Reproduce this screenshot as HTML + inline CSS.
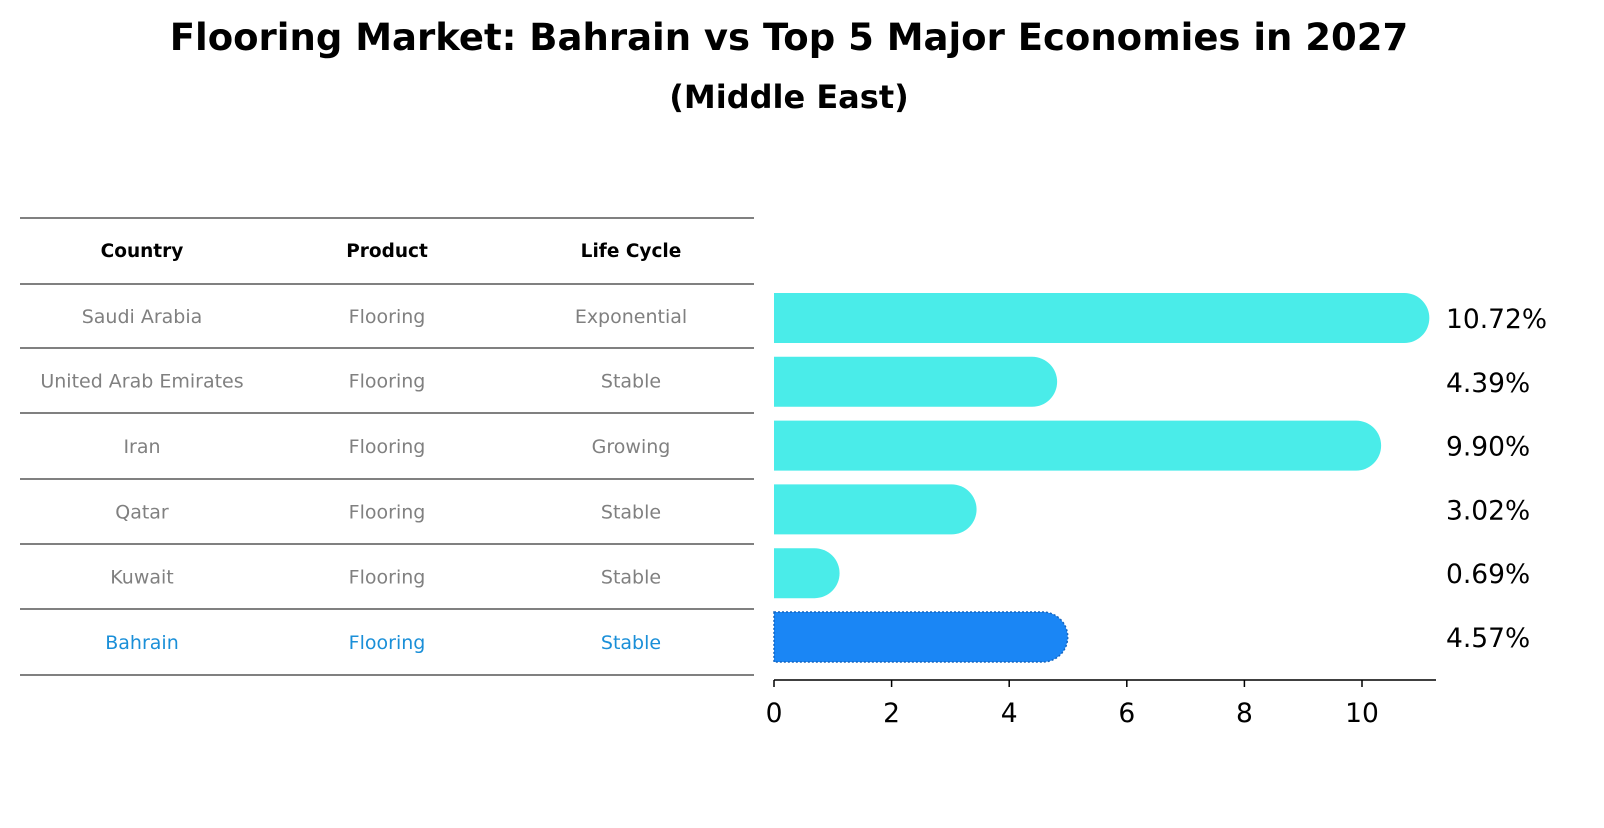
<!DOCTYPE html>
<html><head><meta charset="utf-8"><style>
body{margin:0;background:#fff;font-family:"Liberation Sans","DejaVu Sans",sans-serif;}
</style></head><body>
<svg width="1604" height="823" xmlns="http://www.w3.org/2000/svg" font-family="DejaVu Sans, Liberation Sans, sans-serif">
<text x="789" y="50" text-anchor="middle" font-size="37" font-weight="bold">Flooring Market: Bahrain vs Top 5 Major Economies in 2027</text>
<text x="789" y="108" text-anchor="middle" font-size="32" font-weight="bold">(Middle East)</text>
<g id="table"></g>
<g id="bars"></g>
</svg>
<script>
const countries=["Saudi Arabia","United Arab Emirates","Iran","Qatar","Kuwait","Bahrain"];
const products=["Flooring","Flooring","Flooring","Flooring","Flooring","Flooring"];
const cycles=["Exponential","Stable","Growing","Stable","Stable","Stable"];
const values=[10.72,4.39,9.90,3.02,0.69,4.57];
const ticks=[0,2,4,6,8,10];
const NS="http://www.w3.org/2000/svg";
function mk(t,a,p){const e=document.createElementNS(NS,t);for(const k in a)e.setAttribute(k,a[k]);p.appendChild(e);return e;}
const tb=document.getElementById('table');
const lineYs=[218,284,348,413,479,544,609,675];
const colX=[142,387,631];
lineYs.forEach((y,i)=>{const l=mk('line',{x1:20,x2:754,y1:y,y2:y,stroke:'#000','stroke-width':1},tb);

});
["Country","Product","Life Cycle"].forEach((h,i)=>{const t=mk('text',{x:colX[i],y:257,'text-anchor':'middle','font-size':18.5,'font-weight':'bold'},tb);t.textContent=h;

});
countries.forEach((c,r)=>{const y=(lineYs[r+1]+lineYs[r+2])/2+7;const col=c==="Bahrain"?'#1a8fd8':'#808080';
[c,products[r],cycles[r]].forEach((v,i)=>{const t=mk('text',{x:colX[i],y:y,'text-anchor':'middle','font-size':19,fill:col},tb);t.textContent=v;

});});
const g=document.getElementById('bars');
const x0=774,sc=58.8,h=50,rad=25;
const xs=v=>x0+v*sc;
const yc=i=>318+i*63.8;
values.forEach((v,i)=>{const c=yc(i);const xe=xs(v);const hb=countries[i]==="Bahrain";
const p=mk('path',{d:`M${x0},${c-h/2} H${xe} A${rad},${rad} 0 0 1 ${xe},${c+h/2} H${x0} Z`,fill:hb?'#1a86f5':'#4aece9',stroke:hb?'#1565c0':'none','stroke-width':hb?1.5:0,'stroke-dasharray':hb?'2,2':''},g);


const t=mk('text',{x:1446,y:c+10,'font-size':26.5},g);t.textContent=v.toFixed(2)+'%';

});
const ax=mk('line',{x1:x0,x2:1436,y1:680,y2:680,stroke:'#000','stroke-width':1.5},g);


ticks.forEach(v=>{const tk=mk('line',{x1:xs(v),x2:xs(v),y1:680,y2:687,stroke:'#000','stroke-width':1.5},g);


const t=mk('text',{x:xs(v),y:722,'text-anchor':'middle','font-size':26.5},g);t.textContent=v;

});
</script>
</body></html>
